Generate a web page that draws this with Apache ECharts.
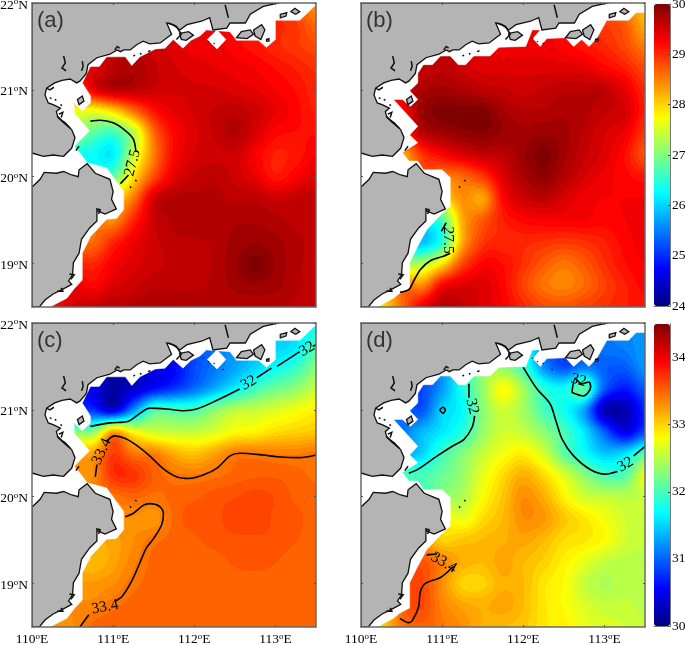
<!DOCTYPE html>
<html><head><meta charset="utf-8">
<style>html,body{margin:0;padding:0;background:#fff}#c{width:685px;height:645px}</style>
<script src="https://cdn.jsdelivr.net/npm/echarts@6/dist/echarts.min.js"></script>
</head><body><div id="c"></div>
<script>
const _ = null;
const lonNodes = [110,110.25,110.5,110.75,111,111.25,111.5,111.75,112,112.25,112.5,112.75,113,113.25,113.5];
const latNodes = [22,21.75,21.5,21.25,21,20.75,20.5,20.25,20,19.75,19.5,19.25,19,18.75,18.5];
const lonTicks = [110,111,112,113];
const latTicks = [19,20,21,22];
const tempTicks = [24,25,26,27,28,29,30];
const salTicks = [30,31,32,33,34];

const fieldA = [
[_,_,_,_,_,_,_,_,_,_,_,_,_,_,28.4],
[_,_,_,_,_,_,_,_,_,_,_,_,29.0,28.9,28.6],
[_,_,_,_,_,_,29.5,29.4,29.3,29.3,29.2,29.1,29.0,28.9,28.8],
[_,_,_,29.4,29.6,29.7,29.55,29.45,29.4,29.35,29.3,29.25,29.15,29.05,28.95],
[_,_,_,29.3,29.6,29.6,29.5,29.45,29.45,29.45,29.4,29.35,29.25,29.15,29.0],
[_,_,27.7,27.6,27.9,28.5,29.1,29.35,29.45,29.55,29.6,29.5,29.35,29.2,29.05],
[_,_,_,26.8,26.6,27.3,28.6,29.2,29.4,29.55,29.65,29.45,29.2,29.15,29.15],
[_,_,_,26.3,26.2,27.4,28.5,29.2,29.45,29.5,29.5,29.25,29.05,29.1,29.25],
[_,_,_,_,26.8,27.9,28.8,29.35,29.55,29.6,29.5,29.35,29.1,29.25,29.4],
[_,_,_,_,_,28.5,29.45,29.65,29.65,29.65,29.6,29.6,29.5,29.55,29.6],
[_,_,_,_,28.4,29.0,29.5,29.65,29.7,29.7,29.7,29.7,29.65,29.6,29.6],
[_,_,_,28.6,29.0,29.3,29.5,29.6,29.6,29.65,29.75,29.8,29.75,29.65,29.6],
[_,_,_,29.0,29.25,29.4,29.5,29.55,29.55,29.65,29.8,29.95,29.8,29.65,29.6],
[_,_,_,29.2,29.4,29.5,29.6,29.6,29.6,29.65,29.75,29.8,29.75,29.65,29.55],
[_,29.2,29.45,29.55,29.6,29.65,29.7,29.7,29.7,29.65,29.65,29.65,29.65,29.6,29.55]];
const fieldB = [
[_,_,_,_,_,_,_,_,_,_,_,_,_,_,28.1],
[_,_,_,_,_,_,_,_,_,_,_,_,28.9,28.7,28.2],
[_,_,_,_,_,_,_,29.3,29.3,29.3,29.2,29.1,29.0,28.8,28.5],
[_,_,_,29.55,29.6,29.5,29.4,29.4,29.4,29.4,29.4,29.35,29.2,29.05,28.8],
[_,_,_,29.7,29.75,29.7,29.6,29.55,29.5,29.55,29.6,29.6,29.6,29.35,29.0],
[_,_,29.2,29.8,29.95,29.95,29.95,29.75,29.65,29.65,29.7,29.65,29.55,29.45,29.05],
[_,_,_,29.6,29.75,29.85,29.9,29.8,29.75,29.8,29.75,29.6,29.45,29.3,28.9],
[_,_,28.2,28.9,29.2,29.4,29.55,29.6,29.8,29.95,29.75,29.55,29.4,29.15,28.75],
[_,_,_,_,28.5,28.6,28.9,29.4,29.7,29.85,29.65,29.45,29.3,29.2,29.1],
[_,_,_,_,_,28.4,28.3,29.2,29.5,29.6,29.45,29.3,29.25,29.25,29.25],
[_,_,_,_,26.7,28.2,28.7,29.05,29.2,29.25,29.25,29.25,29.2,29.25,29.3],
[_,_,_,25.9,26.5,28.2,28.9,29.0,29.0,28.95,28.9,28.95,29.05,29.2,29.3],
[_,_,_,27.3,27.9,28.8,29.2,29.15,28.95,28.7,28.55,28.7,28.95,29.15,29.25],
[_,_,_,28.4,29.2,29.4,29.4,29.2,28.85,28.55,28.45,28.6,28.85,29.05,29.2],
[_,27.9,28.6,29.3,29.65,29.55,29.4,29.25,29.0,28.8,28.75,28.85,28.95,29.05,29.1]];
const fieldC = [
[_,_,_,_,_,_,_,_,_,_,_,_,_,_,31.7],
[_,_,_,_,_,_,_,_,_,_,_,_,31.5,31.6,32.0],
[_,_,_,_,_,_,30.5,30.6,30.9,31.1,31.3,31.5,31.7,31.9,32.25],
[_,_,_,_,30.2,30.35,30.6,30.8,31.05,31.35,31.65,31.95,32.15,32.3,32.55],
[_,_,_,30.8,30.45,31.2,32.0,32.0,32.0,32.3,32.5,32.55,32.65,32.75,32.85],
[_,_,_,32.3,33.2,32.8,32.6,32.55,32.55,32.65,32.8,32.85,32.95,33.0,33.05],
[_,_,_,33.2,33.65,33.4,33.35,33.15,33.05,33.2,33.37,33.38,33.36,33.36,33.4],
[_,_,_,33.3,33.7,33.7,33.5,33.4,33.38,33.42,33.47,33.5,33.5,33.47,33.43],
[_,_,_,_,33.4,33.47,33.42,33.47,33.5,33.55,33.58,33.62,33.58,33.5,33.47],
[_,_,_,_,_,33.3,33.25,33.47,33.55,33.57,33.62,33.65,33.57,33.54,33.47],
[_,_,_,_,33.2,33.3,33.42,33.47,33.5,33.55,33.57,33.57,33.57,33.52,33.47],
[_,_,_,33.1,33.2,33.35,33.47,33.47,33.47,33.48,33.53,33.55,33.52,33.47,33.47],
[_,_,_,33.25,33.3,33.42,33.47,33.47,33.47,33.47,33.47,33.47,33.47,33.47,33.47],
[_,_,_,33.33,33.42,33.47,33.47,33.47,33.47,33.47,33.47,33.47,33.47,33.47,33.47],
[_,33.25,33.3,33.47,33.52,33.48,33.47,33.47,33.47,33.47,33.47,33.47,33.47,33.47,33.47]];
const fieldD = [
[_,_,_,_,_,_,_,_,_,_,_,_,_,_,31.2],
[_,_,_,_,_,_,_,_,_,_,_,_,31.1,31.15,31.25],
[_,_,_,_,_,_,_,32.3,31.95,31.2,30.9,31.1,31.0,31.0,31.25],
[_,_,_,30.9,31.25,31.8,32.35,32.8,32.4,31.85,31.7,32.1,31.0,30.7,31.0],
[_,_,_,30.95,31.5,31.7,32.3,32.6,32.4,32.0,31.75,31.3,30.3,30.25,30.75],
[_,_,31.1,31.4,31.6,31.85,32.35,32.6,32.55,32.3,32.0,31.6,31.0,30.5,30.9],
[_,_,_,31.5,31.95,32.25,32.55,32.75,32.85,32.6,32.1,31.75,31.45,31.55,32.0],
[_,_,_,32.0,32.15,32.35,32.7,32.95,33.15,32.95,32.65,32.3,32.0,32.05,32.7],
[_,_,_,_,_,32.45,32.8,33.05,33.3,33.15,32.85,32.6,32.55,32.5,32.55],
[_,_,_,_,_,32.7,32.95,33.1,33.3,33.25,33.05,32.9,32.75,32.6,32.55],
[_,_,_,_,33.0,33.05,33.1,33.15,33.2,33.1,32.95,32.9,32.8,32.6,32.55],
[_,_,_,33.55,33.35,33.15,33.1,33.2,33.1,33.0,32.85,32.7,32.55,32.5,32.5],
[_,_,_,33.6,33.3,33.0,33.0,33.15,33.1,32.9,32.8,32.55,32.45,32.5,32.5],
[_,_,_,33.6,33.35,33.2,33.15,33.2,33.1,32.9,32.8,32.65,32.55,32.55,32.5],
[_,33.0,33.4,33.5,33.4,33.3,33.15,33.1,33.05,32.9,32.85,32.7,32.65,32.6,32.55]];

// coast, lon/lat
const landNorth = [[110,20.27],[110.01,20.27],[110.14,20.235],[110.26,20.25],[110.39,20.235],[110.49,20.33],[110.53,20.45],[110.49,20.54],[110.41,20.62],[110.32,20.68],[110.30,20.75],[110.35,20.79],[110.26,20.83],[110.20,20.85],[110.16,20.94],[110.18,21.02],[110.28,21.08],[110.37,21.11],[110.47,21.125],[110.55,21.08],[110.59,21.10],[110.67,21.19],[110.69,21.29],[110.80,21.37],[110.96,21.41],[111.05,21.46],[111.09,21.44],[111.13,21.46],[111.21,21.46],[111.29,21.52],[111.37,21.56],[111.45,21.53],[111.58,21.54],[111.72,21.64],[111.66,21.77],[111.74,21.75],[111.82,21.69],[111.91,21.75],[112.09,21.79],[112.19,21.83],[112.23,21.69],[112.40,21.71],[112.44,21.77],[112.63,21.77],[112.69,21.87],[112.85,21.96],[112.99,21.99],[113.04,22],[110,22]];
const landSouth = [[110,19.89],[110.01,19.89],[110.10,19.97],[110.15,20.05],[110.30,20.04],[110.39,20.06],[110.49,20.02],[110.57,20.0],[110.58,20.08],[110.68,20.15],[110.78,20.04],[110.96,19.97],[111.0,19.83],[110.98,19.74],[111.04,19.63],[110.90,19.57],[110.80,19.61],[110.80,19.49],[110.71,19.41],[110.61,19.28],[110.58,19.12],[110.51,19.01],[110.50,18.87],[110.45,18.80],[110.49,18.76],[110.37,18.70],[110.26,18.65],[110.16,18.58],[110.09,18.5],[110,18.5]];
const islands = [
[[110.56,20.89],[110.62,20.93],[110.64,20.87],[110.58,20.83]],
[[111.82,21.65],[111.93,21.67],[111.99,21.63],[111.90,21.57],[111.84,21.58]],
[[112.52,21.60],[112.58,21.67],[112.69,21.69],[112.73,21.64],[112.65,21.59]],
[[112.73,21.69],[112.83,21.75],[112.87,21.69],[112.82,21.58],[112.75,21.62]],
[[113.19,21.90],[113.24,21.94],[113.30,21.90],[113.25,21.87]],
[[113.06,21.87],[113.14,21.89],[113.13,21.85],[113.06,21.83]],
[[112.89,21.58],[112.92,21.59],[112.92,21.56],[112.89,21.56]]];
const coastMarks = [
[[110.39,21.39],[110.41,21.31],[110.37,21.25],[110.42,21.22]],
[[110.62,21.33],[110.63,21.27],[110.61,21.22]],
[[110.31,20.70],[110.37,20.64],[110.47,20.56]],
[[112.38,21.98],[112.42,21.83]],
[[111.68,21.77],[111.78,21.73],[111.84,21.64],[111.78,21.58]],
[[110.54,20.30],[110.58,20.35]],
[[111.21,19.89],[111.22,19.87]],
[[111.27,19.96],[111.29,19.95]],
[[112.11,21.6],[112.12,21.59]],
[[112.17,21.56],[112.18,21.55]],
[[112.24,21.54],[112.25,21.53]],
[[112.35,21.47],[112.36,21.46]],
[[111.02,21.46],[111.05,21.50],[111.08,21.48]],
[[111.25,21.39],[111.27,21.40]],
[[111.33,21.41],[111.35,21.42]],
[[111.43,21.44],[111.46,21.45]],
[[110.22,20.91],[110.24,20.90]],
[[110.28,20.89],[110.30,20.88]],
[[110.35,20.83],[110.37,20.82]],
[[110.18,21.02],[110.22,21.00],[110.27,21.03]],
[[110.33,20.72],[110.38,20.74],[110.36,20.68]],
[[110.79,19.63],[110.84,19.62],[110.82,19.57]],
[[110.46,18.88],[110.52,18.87],[110.48,18.82]],
[[110.31,18.68],[110.38,18.68],[110.36,18.72]]];
// edge of the data area
const edgeAC = [[113.50,21.98],[113.30,21.80],[113.00,21.80],[113.00,21.58],[112.89,21.49],[112.79,21.57],[112.52,21.57],[112.44,21.67],[112.15,21.69],[112.07,21.62],[111.96,21.57],[111.86,21.48],[111.74,21.58],[111.64,21.48],[111.52,21.47],[111.33,21.38],[111.23,21.28],[111.15,21.38],[110.92,21.38],[110.83,21.27],[110.72,21.27],[110.62,21.08],[110.72,20.93],[110.72,20.85],[110.62,20.76],[110.52,20.85],[110.52,20.73],[110.71,20.53],[110.52,20.35],[110.61,20.25],[110.68,20.16],[110.92,20.10],[111.13,19.83],[111.13,19.62],[111.04,19.52],[110.92,19.51],[110.72,19.31],[110.62,19.12],[110.62,18.81],[110.52,18.71],[110.43,18.60],[110.22,18.50]];
const holeAC = [[112.28,21.69],[112.39,21.58],[112.28,21.47],[112.16,21.58]];
const edgeBD = [[113.50,21.89],[113.39,21.89],[113.30,21.80],[113.03,21.80],[112.91,21.60],[112.81,21.50],[112.72,21.58],[112.62,21.50],[112.52,21.60],[112.29,21.59],[112.21,21.50],[112.12,21.59],[112.21,21.69],[112.11,21.69],[112.03,21.50],[111.70,21.49],[111.59,21.39],[111.39,21.39],[111.29,21.29],[111.20,21.29],[111.10,21.39],[110.98,21.39],[110.88,21.29],[110.77,21.29],[110.70,21.19],[110.70,21.08],[110.60,20.99],[110.70,20.89],[110.61,20.81],[110.51,20.89],[110.40,20.89],[110.70,20.58],[110.60,20.48],[110.70,20.39],[110.51,20.28],[110.59,20.18],[110.70,20.18],[110.77,20.08],[111.00,20.08],[111.10,19.99],[111.10,19.66],[111.00,19.58],[110.81,19.39],[110.70,19.20],[110.60,19.01],[110.60,18.72],[110.48,18.66],[110.40,18.60],[110.20,18.50]];

// contours
const contoursA = [
[[110.72,20.64],[110.84,20.65],[111.00,20.62],[111.15,20.53],[111.25,20.43],[111.28,20.29]],
[[111.19,20.02],[111.09,19.92]]];
const contoursB = [
[[110.99,19.37],[111.05,19.47]],
[[111.10,19.12],[111.0,19.08],[110.85,19.03],[110.73,18.93],[110.65,18.80],[110.59,18.70],[110.48,18.67]]];
const contoursC = [
[[110.72,20.81],[110.96,20.85],[111.19,20.87],[111.33,20.96],[111.45,21.02],[111.66,21.01],[111.87,20.99],[112.03,21.01],[112.28,21.11],[112.56,21.24]],
[[112.77,21.37],[112.95,21.48]],
[[113.02,21.50],[113.30,21.67]],
[[113.46,21.73],[113.5,21.75]],
[[110.78,20.23],[110.80,20.37]],
[[110.92,20.64],[111.02,20.70],[111.15,20.67],[111.29,20.59],[111.45,20.47],[111.62,20.32],[111.78,20.23],[111.93,20.21],[112.11,20.25],[112.28,20.33],[112.44,20.47],[112.56,20.50],[112.85,20.48],[113.02,20.46],[113.30,20.45],[113.5,20.48]],
[[111.15,19.77],[111.25,19.81],[111.37,19.90],[111.45,19.92],[111.57,19.89],[111.62,19.81],[111.60,19.68],[111.50,19.52],[111.41,19.41],[111.33,19.24],[111.23,19.03],[111.11,18.85],[111.03,18.80]],
[[110.70,18.64],[110.59,18.50]]];
const contoursD = [
[[111.33,21.30],[111.33,21.14]],
[[111.40,20.93],[111.37,20.80],[111.27,20.66],[111.14,20.59],[110.94,20.47],[110.71,20.32],[110.59,20.27]],
[[112.0,21.49],[112.17,21.24],[112.33,21.07],[112.40,20.88],[112.48,20.66],[112.62,20.47],[112.83,20.31],[113.01,20.26],[113.16,20.29]],
[[113.36,20.47],[113.5,20.58]],
[[112.60,21.20],[112.64,21.36],[112.72,21.30],[112.81,21.32],[112.83,21.26],[112.74,21.16],[112.60,21.20]],
[[110.97,21.0],[111.01,21.03],[111.04,21.0],[111.01,20.96],[110.97,21.0]],
[[110.81,19.33],[110.94,19.34]],
[[111.14,19.20],[110.98,19.07],[110.79,19.0],[110.73,18.90],[110.71,18.73],[110.63,18.57],[110.59,18.55],[110.48,18.60]]];
const labelsA = [[111.24,20.16,'27.5',75]];
const labelsB = [[111.07,19.27,'27.5',-90]];
const labelsC = [[112.67,21.31,'32',30],[113.39,21.70,'32',30],[110.86,20.52,'33.4',65],[110.90,18.73,'33.4',10]];
const labelsD = [[111.37,21.04,'32',-75],[113.26,20.37,'32',30],[112.68,21.34,'32',-15],[111.02,19.24,'33.4',-30]];

const jetStops = ['#000080','#0000ff','#0080ff','#00ffff','#80ff80','#ffff00','#ff8000','#ff0000','#800000'];
const SERIF = '"Liberation Serif","Times New Roman",serif';

function jet(t){
  t = Math.max(0, Math.min(0.9999, t));
  t = Math.floor(t*64)/63;
  const c = x => Math.round(255*Math.max(0, Math.min(1, x)));
  return [c(1.5-Math.abs(4*t-3)), c(1.5-Math.abs(4*t-2)), c(1.5-Math.abs(4*t-1))];
}
// shading only: cells under the mask borrow from their neighbours
function shadeLattice(rows){
  const g = rows.map(r => r.slice());
  for (let pass=0; pass<30; pass++){
    let open = false;
    const prev = g.map(r => r.slice());
    for (let j=0;j<g.length;j++) for (let i=0;i<g[j].length;i++){
      if (prev[j][i] !== null) continue;
      let s=0,n=0;
      [[1,0],[-1,0],[0,1],[0,-1]].forEach(d=>{
        const r = prev[j+d[1]];
        const v = r ? r[i+d[0]] : undefined;
        if (v !== undefined && v !== null){ s+=v; n++; }
      });
      if (n) g[j][i] = s/n; else open = true;
    }
    if (!open) break;
  }
  return g;
}
function cr(a,b,c,d,t){
  return 0.5*((2*b)+(-a+c)*t+(2*a-5*b+4*c-d)*t*t+(-a+3*b-3*c+d)*t*t*t);
}
function cellCanvas(g,i,j,w,h,vmin,vmax){
  const cv = document.createElement('canvas');
  cv.width = w; cv.height = h;
  const ctx = cv.getContext('2d');
  const im = ctx.createImageData(w,h);
  const at = (jj,ii)=>g[Math.max(0,Math.min(g.length-1,jj))][Math.max(0,Math.min(g[0].length-1,ii))];
  for (let y=0;y<h;y++){
    const v=(y+0.5)/h;
    for (let x=0;x<w;x++){
      const u=(x+0.5)/w;
      const col=[-1,0,1,2].map(dj=>cr(at(j+dj,i-1),at(j+dj,i),at(j+dj,i+1),at(j+dj,i+2),u));
      const val=cr(col[0],col[1],col[2],col[3],v);
      const rgb=jet((val-vmin)/(vmax-vmin));
      const k=(y*w+x)*4;
      im.data[k]=rgb[0];im.data[k+1]=rgb[1];im.data[k+2]=rgb[2];im.data[k+3]=255;
    }
  }
  ctx.putImageData(im,0,0);
  return cv;
}
function fieldSeries(idx,rows,vmin,vmax){
  const g = shadeLattice(rows);
  const data = [];
  rows.forEach((r,j)=>r.forEach((v,i)=>data.push([lonNodes[i],latNodes[j],v])));
  const n = lonNodes.length;
  return {type:'custom',xAxisIndex:idx*2,yAxisIndex:idx*2,z:2,silent:true,animation:false,
    encode:{x:0,y:1},data,
    renderItem(params,api){
      const di=params.dataIndex, i=di%n, j=Math.floor(di/n);
      if (i>=n-1||j>=latNodes.length-1) return null;
      const a=api.coord([lonNodes[i],latNodes[j]]), b=api.coord([lonNodes[i+1],latNodes[j+1]]);
      const x0=Math.round(a[0]),y0=Math.round(a[1]),x1=Math.round(b[0]),y1=Math.round(b[1]);
      return {type:'image',silent:true,style:{image:cellCanvas(g,i,j,x1-x0,y1-y0,vmin,vmax),x:x0,y:y0,width:x1-x0,height:y1-y0}};
    }};
}
function polySeries(idx,z,polys,fill,stroke,lw,closed){
  return {type:'custom',xAxisIndex:idx*2,yAxisIndex:idx*2,z,silent:true,animation:false,clip:true,
    encode:{x:0,y:1},data:polys.map(p=>p[0]),
    renderItem(params,api){
      const pts=polys[params.dataIndex].map(p=>api.coord(p));
      const shape={points:pts};
      return closed
        ? {type:'polygon',silent:true,shape,style:{fill,stroke,lineWidth:lw}}
        : {type:'polyline',silent:true,shape,style:{fill:'none',stroke,lineWidth:lw}};
    }};
}
function lineSeries(idx,pts){
  return {type:'line',xAxisIndex:idx*2,yAxisIndex:idx*2,z:6,data:pts,smooth:0.3,showSymbol:false,silent:true,animation:false,
    lineStyle:{color:'#000',width:1.6}};
}
function labelSeries(idx,labels){
  return {type:'custom',xAxisIndex:idx*2,yAxisIndex:idx*2,z:7,silent:true,animation:false,
    encode:{x:0,y:1},data:labels.map(l=>[l[0],l[1]]),
    renderItem(params,api){
      const l=labels[params.dataIndex];
      const p=api.coord([l[0],l[1]]);
      return {type:'text',silent:true,x:p[0],y:p[1],rotation:l[3]*Math.PI/180,
        style:{text:l[2],fill:'#000',font:'15.5px '+SERIF,align:'center',verticalAlign:'middle'}};
    }};
}
const panels=[
 {l:32,t:3,rows:fieldA,min:24,max:30,edge:edgeAC,hole:holeAC,cont:contoursA,lab:labelsA,name:'(a)',xl:false,yl:true},
 {l:361,t:3,rows:fieldB,min:24,max:30,edge:edgeBD,hole:null,cont:contoursB,lab:labelsB,name:'(b)',xl:false,yl:false},
 {l:32,t:323,rows:fieldC,min:30,max:34.5,edge:edgeAC,hole:holeAC,cont:contoursC,lab:labelsC,name:'(c)',xl:true,yl:true},
 {l:361,t:323,rows:fieldD,min:30,max:34.5,edge:edgeBD,hole:null,cont:contoursD,lab:labelsD,name:'(d)',xl:true,yl:false}];
const rich={n:{fontFamily:SERIF,fontSize:13.5,color:'#000',lineHeight:15},s:{fontFamily:SERIF,fontSize:9,color:'#000',lineHeight:15,verticalAlign:'top'}};
const lineSty={show:true,onZero:false,lineStyle:{color:'#6a6a6a',width:1.5}};
const grid=[],xAxis=[],yAxis=[],series=[],title=[];
panels.forEach((p,k)=>{
  grid.push({left:p.l,top:p.t,width:284,height:304,outerBoundsMode:'none'});
  const xb=(pos,lab)=>({type:'value',gridIndex:k,position:pos,min:110,max:113.5,z:10,splitLine:{show:false},axisLine:lineSty,
    axisTick:{show:true,inside:true,length:2,customValues:lonTicks,lineStyle:{color:'#555'}},
    axisLabel:{show:lab,customValues:lonTicks,margin:5,formatter:v=>`{n|${v}}{s|o}{n|E}`,rich}});
  const yb=(pos,lab)=>({type:'value',gridIndex:k,position:pos,min:18.5,max:22,z:10,splitLine:{show:false},axisLine:lineSty,
    axisTick:{show:true,inside:true,length:2,customValues:latTicks,lineStyle:{color:'#555'}},
    axisLabel:{show:lab,customValues:latTicks,margin:4,padding:[4,0,0,0],formatter:v=>`{n|${v}}{s|o}{n|N}`,rich}});
  xAxis.push(xb('bottom',p.xl),xb('top',false));
  yAxis.push(yb('left',p.yl),yb('right',false));
  series.push(fieldSeries(k,p.rows,p.min,p.max));
  const mask=[p.edge.concat([[110,18.5],[110,22],[113.5,22]])];
  if(p.hole) mask.push(p.hole);
  series.push(polySeries(k,3,mask,'#fff','#fff',0.5,true));
  series.push(polySeries(k,4,[landNorth,landSouth].concat(islands),'#b4b4b4','#111',1.3,true));
  series.push(polySeries(k,5,coastMarks,'none','#111',1.5,false));
  p.cont.forEach(c=>series.push(lineSeries(k,c)));
  series.push(labelSeries(k,p.lab));
  title.push({text:p.name,left:p.l+5,top:p.t+7,padding:0,textStyle:{fontFamily:'"Liberation Sans",Arial,sans-serif',fontSize:22,fontWeight:'normal',color:'#333'}});
});
// colour bars
const bars=[{t:4,min:24,max:30,ticks:tempTicks},{t:324,min:30,max:34.5,ticks:salTicks}];
const visualMap=[];
bars.forEach((b,m)=>{
  const gi=grid.length;
  grid.push({left:654,top:b.t,width:16,height:302,outerBoundsMode:'none'});
  xAxis.push({type:'value',gridIndex:gi,min:0,max:1,z:10,axisLabel:{show:false},axisTick:{show:false},splitLine:{show:false},axisLine:{show:true,lineStyle:{color:'#777',width:1}}});
  yAxis.push({type:'value',gridIndex:gi,position:'right',min:b.min,max:b.max,z:10,splitLine:{show:false},
    axisLine:{show:true,onZero:false,lineStyle:{color:'#777',width:1}},
    axisTick:{show:true,inside:true,length:2,customValues:b.ticks,lineStyle:{color:'#444'}},
    axisLabel:{customValues:b.ticks,margin:2,color:'#000',fontFamily:SERIF,fontSize:13.5}});
  visualMap.push({type:'continuous',min:b.min,max:b.max,left:654,top:b.t,itemWidth:16,itemHeight:302,padding:0,seriesIndex:[],
    calculable:false,hoverLink:false,text:null,inRange:{color:jetStops},orient:'vertical'});
});
const chart=echarts.init(document.getElementById('c'),null,{renderer:'canvas'});
chart.setOption({animation:false,backgroundColor:'#fff',title,grid,xAxis,yAxis,series,visualMap});
</script></body></html>
